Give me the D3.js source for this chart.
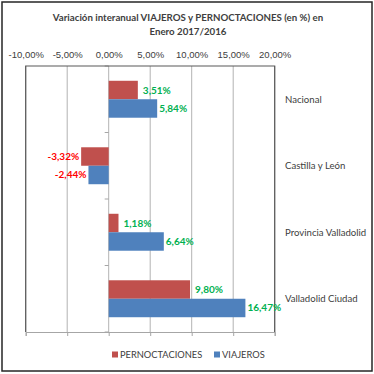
<!DOCTYPE html>
<html>
<head>
<meta charset="utf-8">
<script src="https://cdn.jsdelivr.net/npm/d3@7"></script>
<style>
	body{margin:0;background:#fff;}
	svg{display:block;font-family:Lato,"Open Sans",sans-serif;}
	.axis text{fill:#404040;font-size:9.5px;}
</style>
</head>
<body>
<div id="chart"></div>
<script>
//Data
const categories = ['Nacional','Castilla y León','Provincia Valladolid','Valladolid Ciudad'];
const seriesNames = ['PERNOCTACIONES','VIAJEROS'];
const pernoctaciones = [3.51,-3.32,1.18,9.80];
const viajeros = [5.84,-2.44,6.64,16.47];
const xTicks = [-10,-5,0,5,10,15,20];
const titleLines = ['Variación interanual VIAJEROS y PERNOCTACIONES (en %) en','Enero 2017/2016'];

const colors = {PERNOCTACIONES:'#c0504d',VIAJEROS:'#4f81bd'};
const width = 374, height = 374;
const plot = {l:25.7,r:274.7,t:66,b:332};

const esLocale = d3.formatLocale({decimal:',',thousands:'.',grouping:[3],currency:['','€'],minus:'-'});
const fmt = d => esLocale.format('.2f')(d) + '%';

const rows = [];
categories.forEach((c,i) => {
	rows.push({cat:c,series:'PERNOCTACIONES',value:pernoctaciones[i]});
	rows.push({cat:c,series:'VIAJEROS',value:viajeros[i]});
});

const svg = d3.select('#chart').append('svg')
	.attr('width',width)
	.attr('height',height);

//outer frame
svg.append('rect')
	.attr('x',2).attr('y',2)
	.attr('width',370).attr('height',369)
	.attr('fill','#fff')
	.attr('stroke','#262626')
	.attr('stroke-width',1.5);

//title
svg.append('text')
	.attr('x',188).attr('y',21)
	.attr('text-anchor','middle')
	.style('font-size','9.7px')
	.style('font-weight','bold')
	.style('fill','#404040')
	.selectAll('tspan')
	.data(titleLines)
	.enter().append('tspan')
	.attr('x',188)
	.attr('dy',(d,i) => i ? 14 : 0)
	.text(d => d);

//scales
const scaleX = d3.scaleLinear().domain([-10,20]).range([plot.l,plot.r]);
const scaleY = d3.scaleBand().domain(categories).range([plot.t,plot.b]);
const scaleY1 = d3.scaleBand().domain(seriesNames).range([0,scaleY.bandwidth()]).paddingInner(0).paddingOuter(0.8);

//gridlines
svg.append('g')
	.selectAll('line')
	.data(xTicks)
	.enter().append('line')
	.attr('x1',d => scaleX(d)).attr('x2',d => scaleX(d))
	.attr('y1',plot.t).attr('y2',plot.b)
	.attr('stroke','#b3b3b3')
	.attr('stroke-width',1);

//top axis labels
const axisTop = d3.axisTop(scaleX)
	.tickValues(xTicks)
	.tickFormat(fmt)
	.tickSize(0)
	.tickPadding(8);
svg.append('g')
	.attr('class','axis')
	.attr('transform',`translate(0,${plot.t})`)
	.call(axisTop)
	.call(g => g.select('.domain').remove());

//bottom axis ticks
const axisBottom = d3.axisBottom(scaleX)
	.tickValues(xTicks)
	.tickFormat('')
	.tickSize(4)
	.tickSizeOuter(4);
svg.append('g')
	.attr('class','axis')
	.attr('transform',`translate(0,${plot.b})`)
	.call(axisBottom)
	.call(g => g.selectAll('line,path').attr('stroke','#a6a6a6'));

//vertical zero axis with ticks at band edges
svg.append('g')
	.selectAll('line')
	.data(d3.range(categories.length+1))
	.enter().append('line')
	.attr('x1',scaleX(0)-4).attr('x2',scaleX(0))
	.attr('y1',i => plot.t + i*scaleY.step())
	.attr('y2',i => plot.t + i*scaleY.step())
	.attr('stroke','#a6a6a6');

//bars
svg.append('g')
	.selectAll('rect')
	.data(rows)
	.enter().append('rect')
	.attr('x',d => scaleX(Math.min(0,d.value)))
	.attr('width',d => Math.abs(scaleX(d.value)-scaleX(0)))
	.attr('y',d => scaleY(d.cat)+scaleY1(d.series))
	.attr('height',scaleY1.bandwidth())
	.attr('fill',d => colors[d.series]);

//plot border (left, top, right)
svg.append('path')
	.attr('d',`M${plot.l},${plot.b}V${plot.t}H${plot.r}V${plot.b}`)
	.attr('fill','none')
	.attr('stroke','#595959')
	.attr('stroke-width',1.2);

//data labels
svg.append('g')
	.selectAll('text')
	.data(rows)
	.enter().append('text')
	.attr('x',d => d.value < 0 ? scaleX(d.value)-2 : scaleX(d.value)+(d.series === 'VIAJEROS' ? 2 : 5))
	.attr('y',d => scaleY(d.cat)+scaleY1(d.series)+scaleY1.bandwidth()/2)
	.attr('dy','0.35em')
	.attr('text-anchor',d => d.value < 0 ? 'end' : 'start')
	.style('font-size','10px')
	.style('font-weight','bold')
	.style('fill',d => d.value < 0 ? '#ff0000' : '#00b050')
	.text(d => fmt(d.value));

//category labels
svg.append('g')
	.selectAll('text')
	.data(categories)
	.enter().append('text')
	.attr('x',285)
	.attr('y',d => scaleY(d)+scaleY.bandwidth()/2)
	.attr('dy','0.35em')
	.style('font-size','9.6px')
	.style('fill','#404040')
	.text(d => d);

//legend
const legend = svg.append('g')
	.attr('transform','translate(0,355)');
const legendX = [112,214];
const legendItem = legend.selectAll('g')
	.data(seriesNames)
	.enter().append('g')
	.attr('transform',(d,i) => `translate(${legendX[i]},0)`);
legendItem.append('rect')
	.attr('x',0).attr('y',-3.5)
	.attr('width',6).attr('height',6)
	.attr('fill',d => colors[d]);
legendItem.append('text')
	.attr('x',8)
	.attr('dy','0.35em')
	.style('font-size','9.3px')
	.style('fill','#404040')
	.text(d => d);
</script>
</body>
</html>
